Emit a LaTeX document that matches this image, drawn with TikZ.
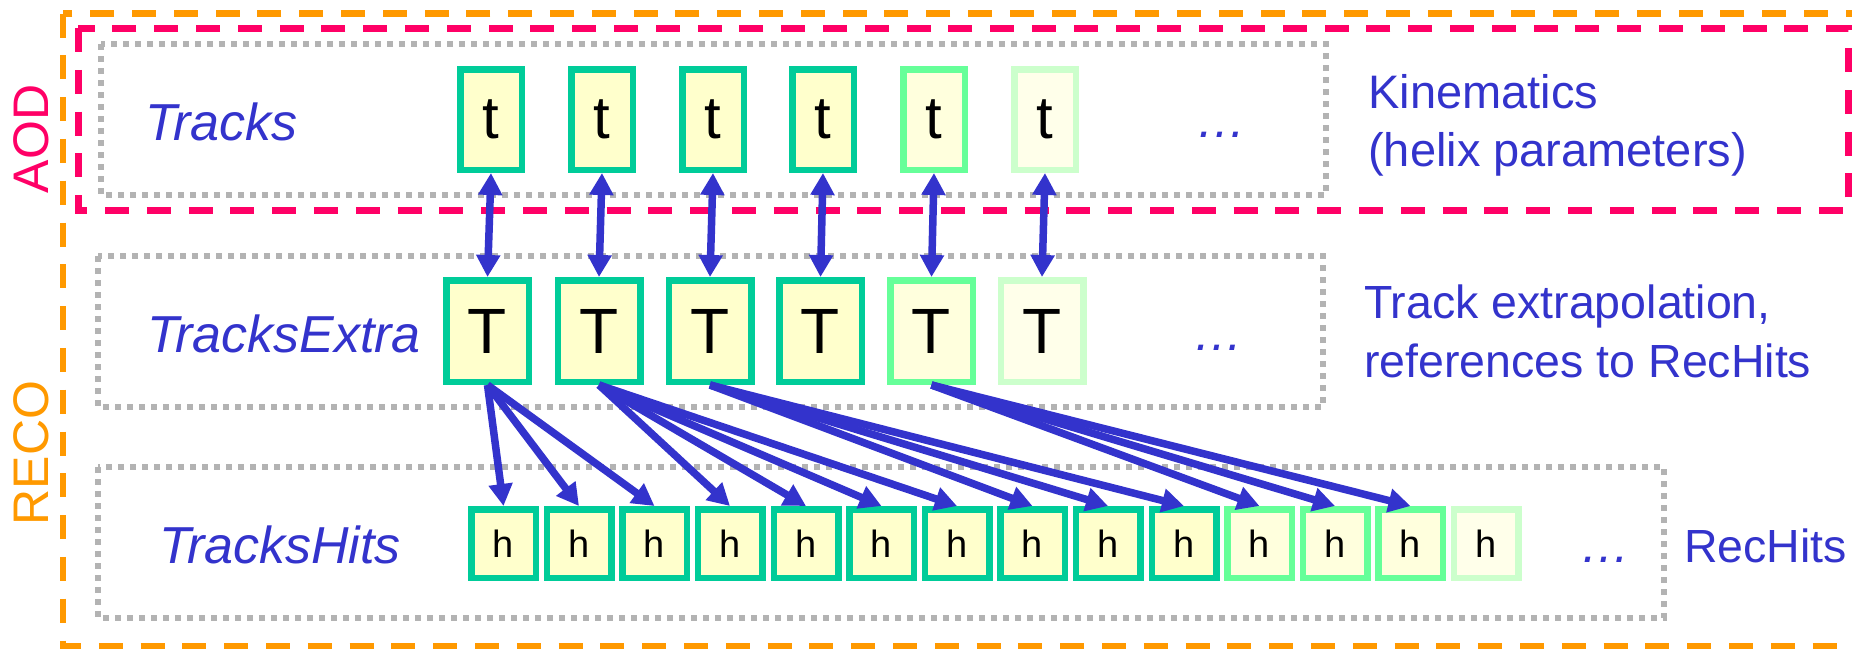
\documentclass[tikz,border=0pt]{standalone}
\usepackage{fontspec}
\setmainfont{Liberation Sans}
\usepackage{tikz}
\usetikzlibrary{arrows.meta}
\definecolor{recoline}{HTML}{FF9900}
\definecolor{aodline}{HTML}{FF0066}
\definecolor{groupline}{HTML}{B3B3B3}
\definecolor{ink}{HTML}{3333CC}
\definecolor{edgefull}{HTML}{00CC99}
\definecolor{edgemid}{HTML}{66FF99}
\definecolor{edgepale}{HTML}{CCFFCC}
\definecolor{fillfull}{HTML}{FFFFCC}
\definecolor{fillmid}{HTML}{FFFFDD}
\definecolor{fillpale}{HTML}{FFFFEA}

\begin{document}
\begin{tikzpicture}[x=1pt, y=-1pt,
  tierbox/.style={line width=6.5pt, dash pattern=on 24pt off 17.8pt},
  collbox/.style={draw=groupline, line width=6pt, dash pattern=on 6pt off 6pt},
  cell/.style={draw, line width=6.5pt, inner sep=0pt, text=black},
  trkcell/.style={cell, minimum width=61.5pt, minimum height=100.5pt, font=\fontsize{60}{60}\selectfont},
  extcell/.style={cell, minimum width=82.5pt, minimum height=101.5pt, font=\fontsize{64}{64}\selectfont},
  hitcell/.style={cell, minimum width=64.5pt, minimum height=68.5pt, font=\fontsize{38}{38}\selectfont},
  solidcell/.style={draw=edgefull, fill=fillfull},
  midcell/.style={draw=edgemid, fill=fillmid},
  palecell/.style={draw=edgepale, fill=fillpale},
  setname/.style={text=ink, inner sep=0pt, anchor=base west, font=\itshape\fontsize{52}{52}\selectfont},
  ellip/.style={text=ink, inner sep=0pt, anchor=base, font=\itshape\fontsize{50}{50}\selectfont},
  note/.style={text=ink, inner sep=0pt, align=left, font=\fontsize{46.5}{59}\selectfont},
  tiername/.style={inner sep=0pt, rotate=90, font=\fontsize{50}{50}\selectfont},
  link/.style={draw=ink, line width=7.5pt, -{Triangle[length=22pt,width=23pt]}},
  twoway/.style={link, {Triangle[length=22pt,width=23pt]}-{Triangle[length=22pt,width=23pt]}}]
  \useasboundingbox (0,0) rectangle (1852,648);

  \draw[tierbox, recoline] (63,13.5) rectangle (1880,646.5);
  \draw[tierbox, aodline, line width=7pt] (78,28) rectangle (1848,210);
  \node[tiername, text=aodline] (aod) at (31.5,139) {AOD};
  \node[tiername, text=recoline] (reco) at (31.5,453) {RECO};

  \draw[collbox] (101,44) rectangle (1326,195);
  \draw[collbox] (98,256) rectangle (1323,407);
  \draw[collbox] (98,467) rectangle (1664,618);

  \node[setname] (tracks) at (145,140) {Tracks};
  \node[setname] (extra) at (147,352) {TracksExtra};
  \node[setname] (hits) at (159,563) {TracksHits};

  \node[trkcell, solidcell] (trk1) at (491,119.5) {t};
  \node[trkcell, solidcell] (trk2) at (602,119.5) {t};
  \node[trkcell, solidcell] (trk3) at (713,119.5) {t};
  \node[trkcell, solidcell] (trk4) at (823,119.5) {t};
  \node[trkcell, midcell] (trk5) at (934,119.5) {t};
  \node[trkcell, palecell] (trk6) at (1045,119.5) {t};
  \node[ellip] (trkmore) at (1221,137) {\dots};

  \node[extcell, solidcell] (ext1) at (487.5,331) {T};
  \node[extcell, solidcell] (ext2) at (599,331) {T};
  \node[extcell, solidcell] (ext3) at (710,331) {T};
  \node[extcell, solidcell] (ext4) at (820.5,331) {T};
  \node[extcell, midcell] (ext5) at (931.5,331) {T};
  \node[extcell, palecell] (ext6) at (1042,331) {T};
  \node[ellip] (extmore) at (1218,350) {\dots};

  \node[hitcell, solidcell] (hit1) at (503.5,543.5) {h};
  \node[hitcell, solidcell] (hit2) at (579,543.5) {h};
  \node[hitcell, solidcell] (hit3) at (654.5,543.5) {h};
  \node[hitcell, solidcell] (hit4) at (730,543.5) {h};
  \node[hitcell, solidcell] (hit5) at (806,543.5) {h};
  \node[hitcell, solidcell] (hit6) at (881.5,543.5) {h};
  \node[hitcell, solidcell] (hit7) at (957,543.5) {h};
  \node[hitcell, solidcell] (hit8) at (1032.5,543.5) {h};
  \node[hitcell, solidcell] (hit9) at (1108,543.5) {h};
  \node[hitcell, solidcell] (hit10) at (1184,543.5) {h};
  \node[hitcell, midcell] (hit11) at (1259.5,543.5) {h};
  \node[hitcell, midcell] (hit12) at (1335,543.5) {h};
  \node[hitcell, midcell] (hit13) at (1410.5,543.5) {h};
  \node[hitcell, palecell] (hit14) at (1486,543.5) {h};
  \node[ellip] (hitmore) at (1605,562) {\dots};

  \node[note, anchor=north west, font=\fontsize{47}{58}\selectfont] (kin) at (1368,74) {Kinematics\\(helix parameters)};
  \node[note, anchor=north west] (extrap) at (1364,285) {Track extrapolation,\\references to RecHits};
  \node[note, anchor=base west] (rechits) at (1684,562) {RecHits};

  \draw[twoway] (trk1.south) -- (ext1.north);
  \draw[twoway] (trk2.south) -- (ext2.north);
  \draw[twoway] (trk3.south) -- (ext3.north);
  \draw[twoway] (trk4.south) -- (ext4.north);
  \draw[twoway] (trk5.south) -- (ext5.north);
  \draw[twoway] (trk6.south) -- (ext6.north);

  \draw[link] (ext1.south) -- (hit1.north);
  \draw[link] (ext1.south) -- (hit2.north);
  \draw[link] (ext1.south) -- (hit3.north);
  \draw[link] (ext2.south) -- (hit4.north);
  \draw[link] (ext2.south) -- (hit5.north);
  \draw[link] (ext2.south) -- (hit6.north);
  \draw[link] (ext2.south) -- (hit7.north);
  \draw[link] (ext3.south) -- (hit8.north);
  \draw[link] (ext3.south) -- (hit9.north);
  \draw[link] (ext3.south) -- (hit10.north);
  \draw[link] (ext5.south) -- (hit11.north);
  \draw[link] (ext5.south) -- (hit12.north);
  \draw[link] (ext5.south) -- (hit13.north);
\end{tikzpicture}
\end{document}
